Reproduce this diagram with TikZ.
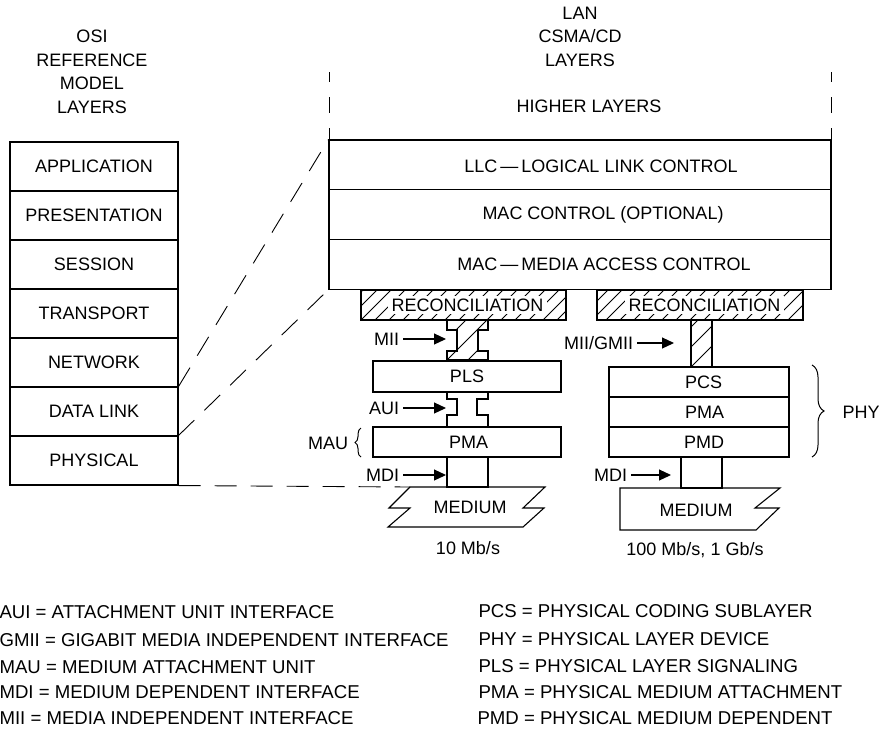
\documentclass[tikz,border=0pt]{standalone}
\usepackage{fontspec}
\setmainfont{Liberation Sans}
\usetikzlibrary{arrows.meta,decorations.pathreplacing}
\begin{document}
\begin{tikzpicture}[x=1pt,y=-1pt,
  font=\fontsize{18}{23.5}\selectfont,
  line width=1.1pt,
  osirow/.style={draw, inner sep=0pt, minimum width=168pt, minimum height=49pt},
  lanrow/.style={draw, inner sep=0pt, minimum width=502pt, minimum height=49.7pt},
  phyrow/.style={draw, inner sep=0pt, minimum width=180pt, minimum height=30pt},
  hatch/.style={line width=0.9pt},
  dashdiag/.style={line width=0.9pt, dash pattern=on 22pt off 14pt},
  vdash/.style={line width=0.9pt, dash pattern=on 10pt off 15pt on 16pt off 15pt on 12pt},
  lbl/.style={anchor=east},
  arr/.style={-{Triangle[length=12pt,width=11pt]}, line width=1.1pt},
  legend/.style={anchor=west, inner sep=0pt, font=\fontsize{18.6}{22}\selectfont},
  whitetxt/.style={fill=white, inner xsep=4pt, inner ysep=3pt, text height=12.9pt, text depth=0pt},
  bracedec/.style={decorate, decoration={brace, amplitude=#1}, line width=1pt}
]
\useasboundingbox (0,0) rectangle (883,732);

% ---------- titles ----------
\node[align=center] (osititle) at (92,72) {OSI\\REFERENCE\\MODEL\\LAYERS};
\node[align=center] (lantitle) at (580,36.5) {LAN\\CSMA/CD\\LAYERS};
\node (higher) at (589,106) {HIGHER LAYERS};
\draw[vdash] (329,72) -- (329,140);
\draw[vdash] (831,72) -- (831,140);

% ---------- OSI stack ----------
\node[osirow] (app)  at (94,166.5) {APPLICATION};
\node[osirow] (pres) at (94,215.5) {PRESENTATION};
\node[osirow] (sess) at (94,264.5) {SESSION};
\node[osirow] (trans) at (94,313.5) {TRANSPORT};
\node[osirow] (net)  at (94,362.5) {NETWORK};
\node[osirow] (dl)   at (94,411.5) {DATA LINK};
\node[osirow] (phys) at (94,460.5) {PHYSICAL};

% ---------- LAN stack ----------
\node[lanrow] (llc)   at (580,164.85) {};
\node[lanrow] (macc)  at (580,214.5) {};
\node[lanrow] (mac)   at (580,264.2) {};
\node (llct)  at (601,166) {LLC\,\textemdash\,LOGICAL LINK CONTROL};
\node (macct) at (603,215) {MAC CONTROL (OPTIONAL)};
\node (mact)  at (604,264.5) {MAC\,\textemdash\,MEDIA ACCESS CONTROL};

% ---------- reconciliation boxes ----------
\begin{scope}
  \clip (361,290) rectangle (566,320);
  \foreach \c in {639,653,...,891} \draw[hatch] (\c-290,290) -- (\c-320,320);
\end{scope}
\node[draw, inner sep=0pt, minimum width=205pt, minimum height=30pt] (recbox1) at (463.5,305) {};
\node[whitetxt] (rec1) at (467.5,305) {RECONCILIATION};

\begin{scope}
  \clip (597,290) rectangle (803,320);
  \foreach \c in {884,898,...,1130} \draw[hatch] (\c-290,290) -- (\c-320,320);
\end{scope}
\node[draw, inner sep=0pt, minimum width=206pt, minimum height=30pt] (recbox2) at (700,305) {};
\node[whitetxt] (rec2) at (704.5,305) {RECONCILIATION};

% ---------- left (10 Mb/s) column ----------
\begin{scope}
  \clip (447,320) -- (488,320) -- (488,330) -- (478,330) -- (478,351) -- (488,351) -- (488,360)
        -- (447,360) -- (447,351) -- (457,351) -- (457,330) -- (447,330) -- cycle;
  \foreach \c in {786,807,828} \draw[hatch] (\c-310,310) -- (\c-370,370);
\end{scope}
\draw (447,320) -- (488,320) -- (488,330) -- (478,330) -- (478,351) -- (488,351) -- (488,360)
      -- (447,360) -- (447,351) -- (457,351) -- (457,330) -- (447,330) -- cycle;

\node[draw, inner sep=0pt, minimum width=188pt, minimum height=31pt] (pls) at (467,376.5) {PLS};

\draw (447,392) -- (488,392) -- (488,399) -- (477,399) -- (477,415) -- (488,415) -- (488,427)
      -- (447,427) -- (447,415) -- (457,415) -- (457,399) -- (447,399) -- cycle;

\node[draw, inner sep=0pt, minimum width=188pt, minimum height=30pt] (pmaL) at (467,442) {};
\node (pmaLt) at (468.5,442) {PMA};

\draw (447,457) rectangle (488,487);

\coordinate (medLtl) at (410,487);
\draw (medLtl) -- (545,487) -- (523,508) -- (544,508) -- (523,527) -- (388,527)
      -- (410,508) -- (389,508) -- cycle;
\node (medL) at (470,507) {MEDIUM};
\node (rateL) at (468,548) {10 Mb/s};

% labels and arrows, left
\node[lbl] (miiL) at (403,339) {MII};
\coordinate (miiTip) at (446,339);
\draw[arr] (miiL.east) -- (miiTip);
\node[lbl] (auiL) at (403,408) {AUI};
\coordinate (auiTip) at (446,408);
\draw[arr] (auiL.east) -- (auiTip);
\node[lbl] (mdiL) at (403,475) {MDI};
\coordinate (mdiTipL) at (446,475);
\draw[arr] (mdiL.east) -- (mdiTipL);
\node[lbl] (mau) at (352,443) {MAU};
\coordinate (mauB) at (361,457);
\coordinate (mauT) at (361,428);
\draw[bracedec=6pt] (mauB) -- (mauT);

% ---------- right (100 Mb/s, 1 Gb/s) column ----------
\begin{scope}
  \clip (691,320) rectangle (712,367);
  \foreach \c in {998,1018,1038,1058,1078} \draw[hatch] (\c-310,310) -- (\c-375,375);
\end{scope}
\draw (691,320) rectangle (712,367);

\node[phyrow] (pcs) at (699,382) {};
\node[phyrow] (pmaR) at (699,412) {};
\node[phyrow] (pmd) at (699,442) {};
\node (pcst) at (703.5,382) {PCS};
\node (pmaRt) at (704.5,412) {PMA};
\node (pmdt) at (704,442) {PMD};

\draw (681,457) rectangle (722,488);

\draw (620,488) -- (780,488) -- (755,508) -- (779,508) -- (756,530) -- (620,530) -- cycle;
\node (medR) at (696,510) {MEDIUM};
\node (rateR) at (695,550) {100 Mb/s, 1 Gb/s};

\node[lbl] (gmii) at (637,343) {MII/GMII};
\coordinate (gmiiTip) at (674,343);
\draw[arr] (gmii.east) -- (gmiiTip);
\node[lbl] (mdiR) at (631,475) {MDI};
\coordinate (mdiTipR) at (671,475);
\draw[arr] (mdiR.east) -- (mdiTipR);

\coordinate (phyT) at (812,365);
\coordinate (phyB) at (812,457);
\draw[bracedec=12pt] (phyT) -- (phyB);
\node[anchor=west, inner sep=0pt] (phy) at (842,412) {PHY};

% ---------- dashed mapping lines ----------
\draw[dashdiag] (dl.north east) -- (llc.north west);
\draw[dashdiag] (phys.north east) -- (mac.south west);
\draw[dashdiag] (phys.south east) -- (medLtl);

% ---------- legend ----------
\node[legend] (lg1) at (-1,612) {AUI = ATTACHMENT UNIT INTERFACE};
\node[legend] (lg2) at (-1,640) {GMII = GIGABIT MEDIA INDEPENDENT INTERFACE};
\node[legend] (lg3) at (-1,667) {MAU = MEDIUM ATTACHMENT UNIT};
\node[legend] (lg4) at (-1,692) {MDI = MEDIUM DEPENDENT INTERFACE};
\node[legend] (lg5) at (-1,718) {MII = MEDIA INDEPENDENT INTERFACE};

\node[legend] (lg6) at (478,611) {PCS = PHYSICAL CODING SUBLAYER};
\node[legend] (lg7) at (478,639) {PHY = PHYSICAL LAYER DEVICE};
\node[legend] (lg8) at (478,666) {PLS = PHYSICAL LAYER SIGNALING};
\node[legend] (lg9) at (478,692) {PMA = PHYSICAL MEDIUM ATTACHMENT};
\node[legend] (lg10) at (477,718) {PMD = PHYSICAL MEDIUM DEPENDENT};
\end{tikzpicture}
\end{document}
